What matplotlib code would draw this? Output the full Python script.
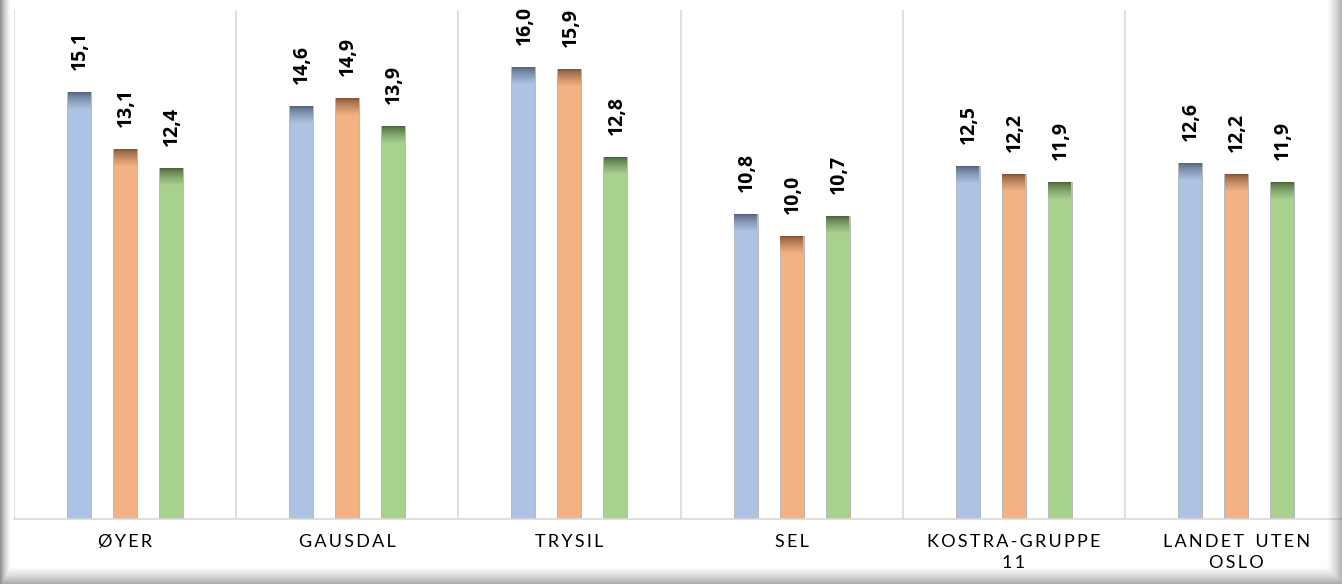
import numpy as np
import matplotlib
matplotlib.use("Agg")
import matplotlib.pyplot as plt
from matplotlib.colors import to_rgb

categories = ["ØYER", "GAUSDAL", "TRYSIL", "SEL", "KOSTRA-GRUPPE\n11", "LANDET UTEN\nOSLO"]
series_a = [15.1, 14.6, 16.0, 10.8, 12.5, 12.6]
series_b = [13.1, 14.9, 15.9, 10.0, 12.2, 12.2]
series_c = [12.4, 13.9, 12.8, 10.7, 11.9, 11.9]
value_labels = [[f"{v:.1f}".replace(".", ",") for v in s] for s in (series_a, series_b, series_c)]

fills = ["#adc3e4", "#f4b183", "#a9d18e"]
tops = ["#56647c", "#835538", "#4c663b"]

W, H = 1342, 584
fig = plt.figure(figsize=(W / 100, H / 100), dpi=100)
fig.patch.set_facecolor("white")

x0, x1 = 14, 14 + 6 * 222.2
ytop, ybot = 10, 519
ax = fig.add_axes([x0 / W, (H - ybot) / H, (x1 - x0) / W, (ybot - ytop) / H])
ax.set_xlim(0, 6)
ax.set_ylim(0, 18)
ax.set_facecolor("none")
for s in ["top", "right", "left"]:
    ax.spines[s].set_visible(False)
ax.spines["bottom"].set_color("#d9d9d9")
ax.spines["bottom"].set_linewidth(1.2)
ax.set_yticks([])
ax.set_xticks([])
for b in range(0, 7):
    ax.axvline(b, color="#d9d9d9", lw=1.2, zorder=0)

bw = 24 / 222.2
offsets = [-46 / 222.2, 0, 46 / 222.2]
unit_px = (ybot - ytop) / 18.0
grad_h = 18 / unit_px
nsteps = 18
for si, vals in enumerate((series_a, series_b, series_c)):
    xs = np.arange(6) + 0.5 + offsets[si]
    ax.bar(xs, vals, width=bw, color=fills[si], edgecolor="#b9b9b9", linewidth=0.7, zorder=2)
    fc = np.array(to_rgb(fills[si]))
    tc = np.array(to_rgb(tops[si]))
    for k in range(nsteps):
        t = (k / (nsteps - 1)) ** 0.75
        col = tc * (1 - t) + fc * t
        for x, v in zip(xs, vals):
            ax.bar(x, grad_h / nsteps, bottom=v - (k + 1) * grad_h / nsteps, width=bw * 0.96,
                   color=col, linewidth=0, zorder=3)
    for x, v, lab in zip(xs, vals, value_labels[si]):
        ax.annotate(lab, (x, v), xytext=(1, 22), textcoords="offset pixels",
                    rotation=90, ha="center", va="bottom", fontsize=14, fontweight="bold",
                    family=["Open Sans", "DejaVu Sans"], color="black", zorder=4)

def spaced(s):
    return "\n".join("\u2009".join(list(line)).replace("\u2009 \u2009", "\u2009\u2009 \u2009") for line in s.split("\n"))

for i, c in enumerate(categories):
    ax.text(i + 0.5, -0.03, spaced(c), transform=ax.get_xaxis_transform(), ha="center", va="top",
            fontsize=13, family=["Lato", "DejaVu Sans"], color="black", linespacing=1.35)

# shadow border
sh = fig.add_axes([0, 0, 1, 1], zorder=10)
sh.set_axis_off()
xx = np.arange(W)
yy = np.arange(H)
left = np.clip(1 - xx / 11.0, 0, 1) ** 1.5 * 0.6
right = np.clip((xx - 1326) / 16.0, 0, 1) ** 1.3 * 0.45
bottom = np.clip((yy - 566) / 18.0, 0, 1) ** 1.3 * 0.5
shade = np.maximum(np.maximum(left[None, :], right[None, :]), bottom[:, None])
rgba = np.zeros((H, W, 4))
rgba[..., 0:3] = 0.3
rgba[..., 3] = shade
sh.imshow(rgba, extent=[0, W, H, 0], aspect="auto", interpolation="bilinear")
sh.set_xlim(0, W)
sh.set_ylim(H, 0)

fig.savefig("out.png", dpi=100, facecolor="white")
